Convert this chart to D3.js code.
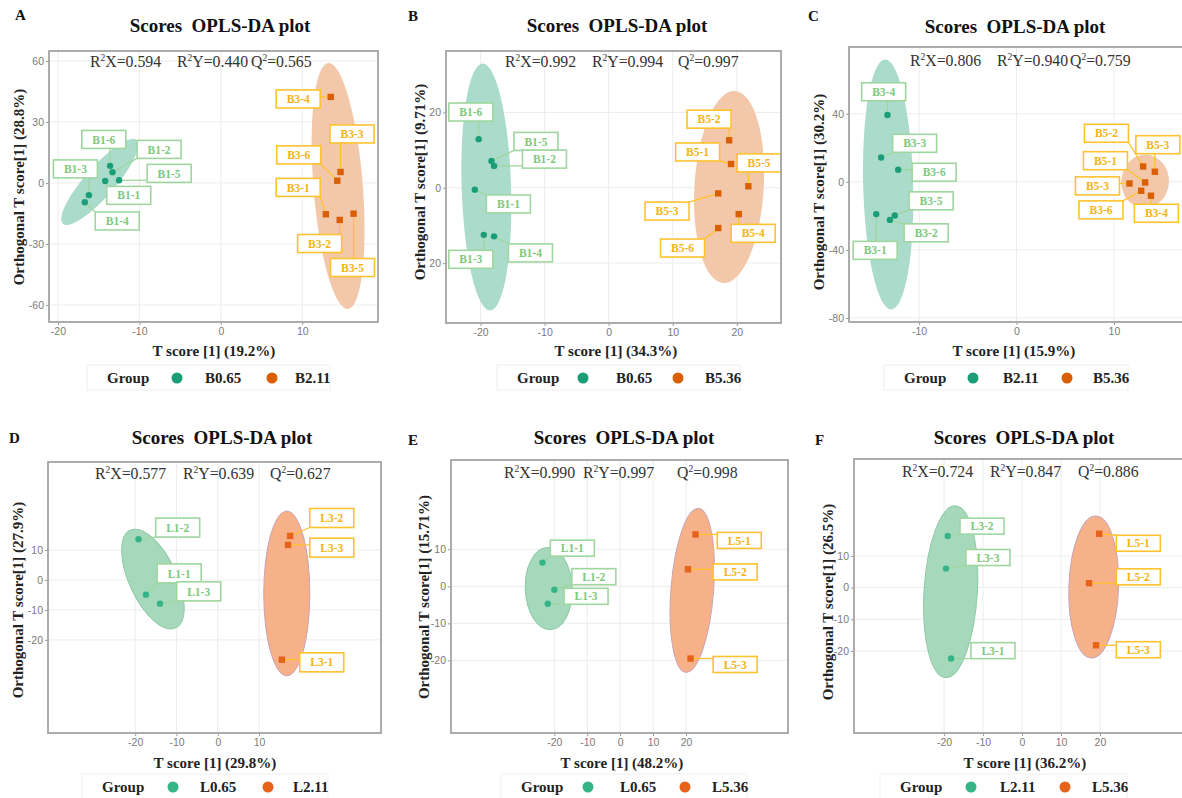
<!DOCTYPE html>
<html>
<head>
  <meta charset="UTF-8">
  <title>Scores OPLS-DA plots</title>
  <style>
    body { margin: 0; background: #fff; }
    svg { display: block; }
    .serif { font-family: "Liberation Serif", "DejaVu Serif", serif; }
    .tick text { font-family: "Liberation Sans", Arial, sans-serif; font-size: 10.5px; fill: #7a7a7a; }
    .tick line { stroke: #9a9a9a; }
  </style>
</head>
<body>
  <svg id="fig" width="1182" height="798"></svg>

  <script src="https://d3js.org/d3.v7.min.js"></script>
  <script>
    // ---------------- data ----------------
    const panelLetters = ["A", "B", "C", "D", "E", "F"];
    const legendGroups = [["B0.65", "B2.11"], ["B0.65", "B5.36"], ["B2.11", "B5.36"],
                          ["L0.65", "L2.11"], ["L0.65", "L5.36"], ["L2.11", "L5.36"]];
    const xAxisTitles = ["T score [1] (19.2%)", "T score [1] (34.3%)", "T score [1] (15.9%)",
                         "T score [1] (29.8%)", "T score [1] (48.2%)", "T score [1] (36.2%)"];
    const yAxisTitles = ["Orthogonal T score[1] (28.8%)", "Orthogonal T score[1] (9.71%)",
                         "Orthogonal T score[1] (30.2%)", "Orthogonal T score[1] (27.9%)",
                         "Orthogonal T score[1] (15.71%)", "Orthogonal T score[1] (26.5%)"];
    const r2xValues = ["0.594", "0.992", "0.806", "0.577", "0.990", "0.724"];
    const r2yValues = ["0.440", "0.994", "0.940", "0.639", "0.997", "0.847"];
    const q2Values  = ["0.565", "0.997", "0.759", "0.627", "0.998", "0.886"];

    const xDomains = [[-21.1, 19.3], [-25.4, 26.9], [-17.2, 17.4], [-41.1, 39.5], [-51.4, 51.0], [-43.1, 43.1]];
    const yDomains = [[-68.4, 64.9], [-35.9, 36.3], [-82.4, 79.2], [-51.1, 39.4], [-39.6, 34.1], [-45.9, 40.6]];
    const xTicks = [[-20, -10, 0, 10], [-20, -10, 0, 10, 20], [-10, 0, 10],
                    [-20, -10, 0, 10], [-20, -10, 0, 10, 20], [-20, -10, 0, 10, 20]];
    const yTicks = [[-60, -30, 0, 30, 60], [-20, 0, 20], [-80, -40, 0, 40],
                    [-20, -10, 0, 10], [-20, -10, 0, 10], [-20, -10, 0, 10]];
    const yTickTextB = ["20", "0", "20"];   // as printed in panel B

    // panel A
    const aGreenNames = ["B1-6", "B1-2", "B1-5", "B1-1", "B1-3", "B1-4"];
    const aGreenX = [-13.6, -13.3, -12.5, -14.2, -16.2, -16.7];
    const aGreenY = [8.4, 5.3, 1.3, 1.0, -6.0, -9.5];
    const aGreenLabX = [-14.37, -7.58, -6.35, -11.31, -17.86, -12.72];
    const aGreenLabY = [21.4, 16.5, 4.7, -6.1, 6.9, -18.7];
    const aOrangeNames = ["B3-4", "B3-3", "B3-6", "B3-1", "B3-2", "B3-5"];
    const aOrangeX = [13.5, 14.7, 14.3, 12.9, 14.6, 16.3];
    const aOrangeY = [42.3, 5.4, 1.1, -15.4, -18.2, -15.1];
    const aOrangeLabX = [9.50, 16.11, 9.56, 9.50, 12.13, 16.17];
    const aOrangeLabY = [41.3, 24.1, 13.8, -2.2, -29.8, -41.6];
    const aEllipses = [[-14.86, 0.5, -10.33, 21.1, 0.27], [14.4, -1.5, 13.2, 59.0, 0.2]];

    // panel B
    const bGreenNames = ["B1-6", "B1-5", "B1-2", "B1-1", "B1-3", "B1-4"];
    const bGreenX = [-20.3, -18.3, -17.9, -20.9, -19.5, -17.9];
    const bGreenY = [12.9, 7.1, 5.8, -0.5, -12.5, -12.9];
    const bGreenLabX = [-21.52, -11.36, -10.03, -15.66, -21.52, -12.22];
    const bGreenLabY = [20.1, 12.3, 7.6, -4.3, -19.0, -17.3];
    const bOrangeNames = ["B5-2", "B5-1", "B5-5", "B5-3", "B5-4", "B5-6"];
    const bOrangeX = [18.8, 19.1, 21.8, 17.1, 20.3, 17.1];
    const bOrangeY = [12.6, 6.3, 0.4, -1.5, -7.0, -10.7];
    const bOrangeLabX = [15.67, 13.88, 23.48, 9.11, 22.55, 11.53];
    const bOrangeLabY = [18.2, 9.5, 6.6, -6.2, -12.1, -16.0];
    const bEllipses = [[-19.1, 0.2, -19.7, 33.0, 0.2], [18.8, 0.2, 19.7, 25.7, 0.36]];

    // panel C
    const cGreenNames = ["B3-4", "B3-3", "B3-6", "B3-5", "B3-2", "B3-1"];
    const cGreenX = [-13.25, -13.9, -12.15, -12.5, -13.0, -14.4];
    const cGreenY = [39.2, 14.3, 7.1, -19.8, -22.4, -19.0];
    const cGreenLabX = [-13.64, -10.46, -8.46, -8.77, -9.28, -14.51];
    const cGreenLabY = [52.9, 22.6, 5.6, -11.2, -30.0, -40.3];
    const cOrangeNames = ["B5-2", "B5-3", "B5-1", "B5-3", "B3-6", "B3-4"];
    const cOrangeX = [13.0, 14.2, 13.2, 11.6, 12.8, 13.8];
    const cOrangeY = [9.0, 5.9, -0.4, -1.0, -5.3, -8.2];
    const cOrangeLabX = [9.23, 14.51, 9.13, 8.31, 8.67, 14.36];
    const cOrangeLabY = [28.5, 21.8, 12.4, -2.4, -16.5, -18.5];
    const cEllipses = [[-13.18, -1.6, -13.5, 71.8, 0.2], [13.2, 0.2, 13.4, 15.9, 0.89]];

    // panel D
    const dGreenNames = ["L1-2", "L1-1", "L1-3"];
    const dGreenX = [-19.2, -17.4, -14.0];
    const dGreenY = [13.6, -4.9, -7.9];
    const dGreenLabX = [-9.71, -9.35, -4.62];
    const dGreenLabY = [17.5, 2.2, -3.8];
    const dOrangeNames = ["L3-2", "L3-3", "L3-1"];
    const dOrangeX = [17.5, 17.0, 15.5];
    const dOrangeY = [14.7, 11.7, -26.6];
    const dOrangeLabX = [27.58, 27.58, 25.16];
    const dOrangeLabY = [20.7, 10.8, -27.5];
    const dEllipses = [[-15.7, 0.3, -10.2, -16.0, 0.44], [16.7, -4.5, 16.7, 23.0, 0.28]];

    // panel E
    const eGreenNames = ["L1-1", "L1-2", "L1-3"];
    const eGreenX = [-23.6, -20.0, -22.0];
    const eGreenY = [6.4, -0.9, -4.7];
    const eGreenLabX = [-14.53, -7.99, -10.36];
    const eGreenLabY = [10.3, 2.6, -2.7];
    const eOrangeNames = ["L5-1", "L5-2", "L5-3"];
    const eOrangeX = [22.9, 20.6, 21.4];
    const eOrangeY = [14.0, 4.6, -19.5];
    const eOrangeLabX = [36.20, 34.95, 34.95];
    const eOrangeLabY = [12.4, 3.9, -21.1];
    const eEllipses = [[-21.7, -0.6, -22.2, 10.5, 0.57], [21.9, -1.1, 23.8, 21.0, 0.26]];

    // panel F
    const fGreenNames = ["L3-2", "L3-3", "L3-1"];
    const fGreenX = [-19.05, -19.5, -18.2];
    const fGreenY = [16.3, 6.0, -22.4];
    const fGreenLabX = [-10.26, -8.74, -7.46];
    const fGreenLabY = [19.4, 9.5, -19.9];
    const fOrangeNames = ["L5-1", "L5-2", "L5-3"];
    const fOrangeX = [19.8, 17.2, 19.0];
    const fOrangeY = [17.0, 1.4, -18.2];
    const fOrangeLabX = [29.85, 29.85, 29.85];
    const fOrangeLabY = [14.0, 3.4, -19.6];
    const fEllipses = [[-18.3, -1.3, -17.0, 25.8, 0.31], [18.4, 0.2, 19.0, 22.6, 0.35]];

    // ---------------- layout (pixels) ----------------
    // plot: [left, top, right, bottom]; stats: x of R2X, R2Y, Q2 and baseline
    const layout = [
      { plot: [49, 51, 378, 322], letter: [15, 20], title: [220, 32], stats: [90, 177, 251, 67],
        xt: [214, 356], yt: [24, 187], legend: [107, 177, 205, 272, 295, 378], lblH: 18 },
      { plot: [446, 51, 781, 323], letter: [408, 21], title: [617, 32], stats: [505, 592, 678, 67],
        xt: [616, 356], yt: [425, 182], legend: [517, 583, 616, 678, 705, 378], lblH: 18 },
      { plot: [849, 47, 1186, 322], letter: [808, 21], title: [1015, 33], stats: [910, 997, 1070, 66],
        xt: [1014, 356], yt: [824, 192], legend: [904, 973, 1003, 1067, 1093, 378], lblH: 18 },
      { plot: [48, 462, 381, 733], letter: [9, 443], title: [222, 444], stats: [95, 183, 270, 479],
        xt: [215, 768], yt: [23, 600], legend: [102, 173, 200, 268, 293, 787], lblH: 19 },
      { plot: [451, 460, 788, 733], letter: [408, 445], title: [624, 444], stats: [504, 583, 677, 478],
        xt: [622, 768], yt: [429, 597], legend: [521, 588, 620, 685, 712, 787], lblH: 16 },
      { plot: [854, 459, 1190, 733], letter: [815, 445], title: [1024, 444], stats: [902, 990, 1078, 477],
        xt: [1025, 768], yt: [833, 602], legend: [900, 971, 1000, 1065, 1092, 787], lblH: 16 }
    ];

    const samples = [
      [aGreenNames, aGreenX, aGreenY, aGreenLabX, aGreenLabY, aOrangeNames, aOrangeX, aOrangeY, aOrangeLabX, aOrangeLabY, aEllipses],
      [bGreenNames, bGreenX, bGreenY, bGreenLabX, bGreenLabY, bOrangeNames, bOrangeX, bOrangeY, bOrangeLabX, bOrangeLabY, bEllipses],
      [cGreenNames, cGreenX, cGreenY, cGreenLabX, cGreenLabY, cOrangeNames, cOrangeX, cOrangeY, cOrangeLabX, cOrangeLabY, cEllipses],
      [dGreenNames, dGreenX, dGreenY, dGreenLabX, dGreenLabY, dOrangeNames, dOrangeX, dOrangeY, dOrangeLabX, dOrangeLabY, dEllipses],
      [eGreenNames, eGreenX, eGreenY, eGreenLabX, eGreenLabY, eOrangeNames, eOrangeX, eOrangeY, eOrangeLabX, eOrangeLabY, eEllipses],
      [fGreenNames, fGreenX, fGreenY, fGreenLabX, fGreenLabY, fOrangeNames, fOrangeX, fOrangeY, fOrangeLabX, fOrangeLabY, fEllipses]
    ];

    // two colour styles: top row (A-C) and bottom row (D-F)
    const rowStyle = [
      { green: "#1b9e77", orange: "#d95f02", ellFill: ["#abdccb", "#f3c8aa"], ellStroke: ["none", "none"] },
      { green: "#34b487", orange: "#e5631a", ellFill: ["#a6d9bc", "#f6b189"], ellStroke: ["#8ccaa3", "#c9a3b6"] }
    ];
    const labelColor = { green: "#7ec97e", greenBorder: "#9fd69f", orange: "#f4b414", orangeBorder: "#ffc22e" };

    const svg = d3.select("#fig");
    svg.append("rect").attr("width", 1182).attr("height", 798).attr("fill", "#fff");

    panelLetters.forEach((letter, i) => {
      const L = layout[i];
      const st = rowStyle[i < 3 ? 0 : 1];
      const [l, t, r, b] = L.plot;
      const x = d3.scaleLinear().domain(xDomains[i]).range([l, r]);
      const y = d3.scaleLinear().domain(yDomains[i]).range([b, t]);
      const g = svg.append("g");

      const clipId = "clip" + letter;
      svg.append("clipPath").attr("id", clipId)
        .append("rect").attr("x", l).attr("y", t).attr("width", r - l).attr("height", b - t);

      // grid
      const grid = g.append("g").attr("clip-path", `url(#${clipId})`);
      grid.selectAll("line.gx").data(xTicks[i]).join("line").attr("class", "gx")
        .attr("x1", d => x(d)).attr("x2", d => x(d)).attr("y1", t).attr("y2", b)
        .attr("stroke", "#ececec").attr("stroke-width", 1);
      grid.selectAll("line.gy").data(yTicks[i]).join("line").attr("class", "gy")
        .attr("y1", d => y(d)).attr("y2", d => y(d)).attr("x1", l).attr("x2", r)
        .attr("stroke", "#ececec").attr("stroke-width", 1);

      // axes (plain hyphen minus, as ggplot prints it)
      const yAxis = d3.axisLeft(y).tickValues(yTicks[i]).tickSize(3).tickPadding(2)
        .tickFormat((d, k) => i === 1 ? yTickTextB[k] : String(d));
      g.append("g").attr("transform", `translate(${l},0)`).call(yAxis)
        .call(s => s.select(".domain").remove());
      const xAxis = d3.axisBottom(x).tickValues(xTicks[i]).tickSize(3).tickPadding(3)
        .tickFormat(d => String(d));
      g.append("g").attr("transform", `translate(0,${b})`).call(xAxis)
        .call(s => s.select(".domain").remove());

      const s = samples[i];
      const groups = [
        { names: s[0], xs: s[1], ys: s[2], lx: s[3], ly: s[4], kind: "green" },
        { names: s[5], xs: s[6], ys: s[7], lx: s[8], ly: s[9], kind: "orange" }
      ];
      const ells = s[10];

      // confidence ellipses
      const eg = g.append("g").attr("clip-path", `url(#${clipId})`);
      ells.forEach((e, k) => {
        const cx = x(e[0]), cy = y(e[1]);
        const vx = x(e[2]) - cx, vy = y(e[3]) - cy;
        const a = Math.hypot(vx, vy);
        const ang = Math.atan2(vy, vx) * 180 / Math.PI;
        eg.append("ellipse")
          .attr("cx", 0).attr("cy", 0).attr("rx", a).attr("ry", a * e[4])
          .attr("transform", `translate(${cx},${cy}) rotate(${ang})`)
          .attr("fill", st.ellFill[k])
          .attr("stroke", st.ellStroke[k]).attr("stroke-width", 1);
      });

      // label boxes (repelled positions) and leader lines
      const lw = 44, lh = L.lblH;
      const lg = g.append("g").attr("clip-path", `url(#${clipId})`);
      groups.forEach(grp => {
        const col = grp.kind === "green" ? labelColor.greenBorder : labelColor.orangeBorder;
        grp.names.forEach((nm, k) => {
          const px = x(grp.xs[k]), py = y(grp.ys[k]);
          const bx = x(grp.lx[k]), by = y(grp.ly[k]);
          const x0 = bx - lw / 2, x1 = bx + lw / 2, y0 = by - lh / 2, y1 = by + lh / 2;
          const qx = Math.max(x0, Math.min(x1, px)), qy = Math.max(y0, Math.min(y1, py));
          const d = Math.hypot(qx - px, qy - py);
          if (d > 4) {
            const sx = px + (qx - px) * 2.5 / d, sy = py + (qy - py) * 2.5 / d;
            lg.append("line").attr("x1", sx).attr("y1", sy).attr("x2", qx).attr("y2", qy)
              .attr("stroke", col).attr("stroke-width", 1.3);
          }
        });
      });

      // points
      const pg = g.append("g");
      pg.selectAll("circle").data(groups[0].names).join("circle")
        .attr("cx", (d, k) => x(groups[0].xs[k])).attr("cy", (d, k) => y(groups[0].ys[k]))
        .attr("r", 3.2).attr("fill", st.green);
      pg.selectAll("rect").data(groups[1].names).join("rect")
        .attr("x", (d, k) => x(groups[1].xs[k]) - 3.2).attr("y", (d, k) => y(groups[1].ys[k]) - 3.2)
        .attr("width", 6.4).attr("height", 6.4).attr("fill", st.orange);

      groups.forEach(grp => {
        const border = grp.kind === "green" ? labelColor.greenBorder : labelColor.orangeBorder;
        const txt = grp.kind === "green" ? labelColor.green : labelColor.orange;
        grp.names.forEach((nm, k) => {
          const bx = x(grp.lx[k]), by = y(grp.ly[k]);
          lg.append("rect").attr("x", bx - lw / 2).attr("y", by - lh / 2)
            .attr("width", lw).attr("height", lh)
            .attr("fill", "#fff").attr("stroke", border).attr("stroke-width", 1.6);
          lg.append("text").attr("class", "serif")
            .attr("x", bx).attr("y", by).attr("dy", "0.36em")
            .attr("text-anchor", "middle").attr("font-weight", "bold").attr("font-size", 11.5)
            .attr("fill", txt).text(nm);
        });
      });

      // panel border
      g.append("rect").attr("x", l).attr("y", t).attr("width", r - l).attr("height", b - t)
        .attr("fill", "none").attr("stroke", "#a4a4a4").attr("stroke-width", 1.8);

      // panel letter and title
      g.append("text").attr("class", "serif").attr("x", L.letter[0]).attr("y", L.letter[1])
        .attr("font-weight", "bold").attr("font-size", 15).attr("fill", "#111").text(letter);
      g.append("text").attr("class", "serif").attr("x", L.title[0]).attr("y", L.title[1])
        .attr("text-anchor", "middle").attr("font-weight", "bold").attr("font-size", 19)
        .attr("fill", "#111").style("white-space", "pre").text("Scores  OPLS-DA plot");

      // model statistics
      const stats = [["R", "X=" + r2xValues[i]], ["R", "Y=" + r2yValues[i]], ["Q", "=" + q2Values[i]]];
      stats.forEach((sv, k) => {
        const tx = g.append("text").attr("class", "serif")
          .attr("x", L.stats[k]).attr("y", L.stats[3])
          .attr("font-size", 15.8).attr("fill", "#333");
        tx.append("tspan").text(sv[0]);
        tx.append("tspan").attr("dy", -6).attr("font-size", 9.5).text("2");
        tx.append("tspan").attr("dy", 6).text(sv[1]);
      });

      // axis titles
      g.append("text").attr("class", "serif").attr("x", L.xt[0]).attr("y", L.xt[1])
        .attr("text-anchor", "middle").attr("font-weight", "bold").attr("font-size", 15)
        .attr("fill", "#222").text(xAxisTitles[i]);
      g.append("text").attr("class", "serif")
        .attr("transform", `translate(${L.yt[0]},${L.yt[1]}) rotate(-90)`)
        .attr("text-anchor", "middle").attr("font-weight", "bold").attr("font-size", 15)
        .attr("fill", "#222").text(yAxisTitles[i]);

      // legend
      const [gx, d1, t1, d2, t2, ly] = L.legend;
      g.append("rect").attr("x", gx - 20).attr("y", ly - 13).attr("width", t2 + 55 - gx).attr("height", 25)
        .attr("fill", "none").attr("stroke", "#efefef").attr("stroke-width", 1);
      g.append("text").attr("class", "serif").attr("x", gx).attr("y", ly + 5)
        .attr("font-weight", "bold").attr("font-size", 15).attr("fill", "#222").text("Group");
      [[d1, t1, st.green], [d2, t2, st.orange]].forEach((it, k) => {
        g.append("circle").attr("cx", it[0]).attr("cy", ly).attr("r", 5.5).attr("fill", it[2]);
        g.append("text").attr("class", "serif").attr("x", it[1]).attr("y", ly + 5)
          .attr("font-weight", "bold").attr("font-size", 15).attr("fill", "#222").text(legendGroups[i][k]);
      });
    });
  </script>
</body>
</html>
